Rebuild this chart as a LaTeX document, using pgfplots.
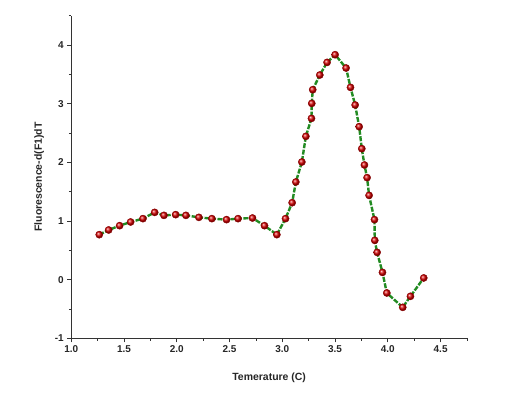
\documentclass[border=0pt]{standalone}
\usepackage{fontspec}
\setmainfont{Liberation Sans}
\usepackage{pgfplots}
\pgfplotsset{compat=1.18}
\usetikzlibrary{shadings}
\definecolor{lgreen}{RGB}{34,139,34}
\begin{document}
\begin{tikzpicture}
\begin{axis}[
  scale only axis,
  width=395.7bp, height=322.6bp,
  xmin=1.0, xmax=4.75, ymin=-1, ymax=4.5,
  axis lines*=left,
  axis line style={black!80, line width=0.9pt},
  xtick={1.0,1.5,...,4.5},
  ytick={-1,0,...,4},
  minor xtick={1.25,1.75,...,4.75},
  minor ytick={-0.5,0.5,...,4.5},
  tick align=outside,
  major tick length=4bp, minor tick length=2.5bp,
  tick style={black!80, line width=0.8pt},
  xticklabel style={/pgf/number format/.cd, fixed, fixed zerofill, precision=1},
  /pgf/number format/assume math mode=true,
  ticklabel style={font=\fontsize{10}{12}\selectfont\bfseries, text=black!85},
  xlabel={Temerature (C)},
  ylabel={Fluorescence-d(F1)dT},
  label style={font=\fontsize{10.5}{12}\selectfont\bfseries, text=black!85},
  xlabel style={yshift=-13bp},
  ylabel style={yshift=4bp},
  clip=false,
]
\addplot[lgreen, line width=2.4bp, dash pattern=on 5bp off 1.5bp,
  mark=ball, mark size=3.6bp, mark options={solid, draw=red!55!black, line width=0.4pt, ball color=red!85!black}]
coordinates {
(1.265,0.767) (1.354,0.847) (1.458,0.920) (1.562,0.983) (1.679,1.040)
(1.790,1.147) (1.878,1.096) (1.989,1.108) (2.086,1.096) (2.209,1.062)
(2.332,1.040) (2.471,1.023) (2.580,1.040) (2.717,1.051) (2.831,0.920)
(2.948,0.767) (3.030,1.040) (3.093,1.312) (3.128,1.665) (3.185,2.006)
(3.223,2.443) (3.276,2.749) (3.279,3.005) (3.288,3.238) (3.355,3.489)
(3.424,3.704) (3.500,3.835) (3.604,3.608) (3.646,3.278) (3.690,2.978)
(3.728,2.608) (3.753,2.233) (3.778,1.955) (3.803,1.739) (3.822,1.437)
(3.873,1.023) (3.876,0.670) (3.898,0.465) (3.949,0.124) (3.990,-0.227)
(4.141,-0.472) (4.214,-0.284) (4.340,0.029)
};
\end{axis}
\useasboundingbox (-71.3bp,-60.7bp) rectangle ++(527bp,399bp);
\end{tikzpicture}
\end{document}
